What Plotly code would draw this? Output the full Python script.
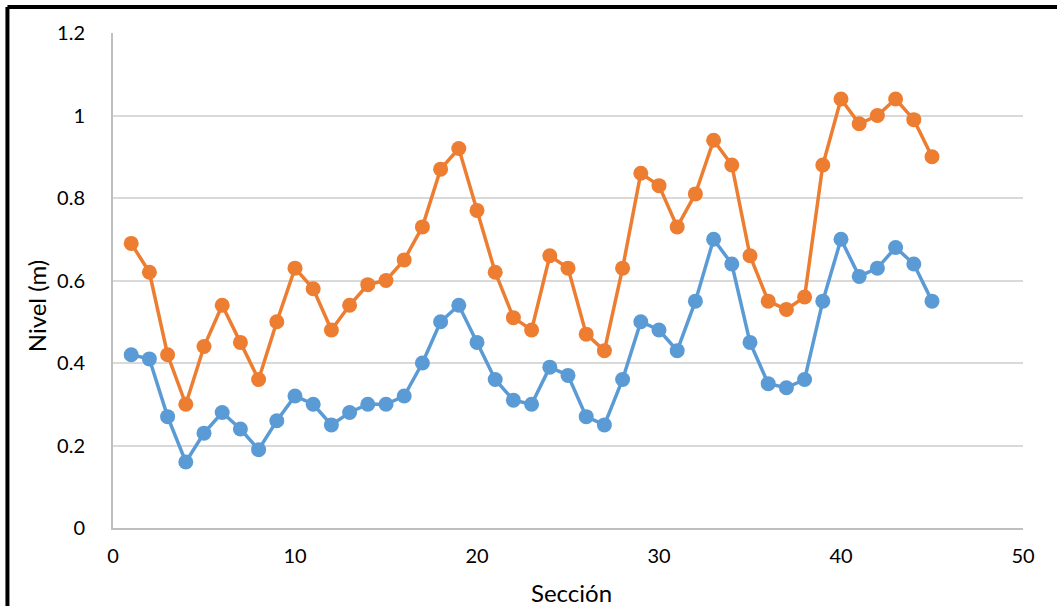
import plotly.graph_objects as go

# Section numbers along the channel
seccion = list(range(1, 46))

# Water level per section (m), lower series
nivel_bajo = [0.42, 0.41, 0.27, 0.16, 0.23, 0.28, 0.24, 0.19, 0.26, 0.32,
              0.30, 0.25, 0.28, 0.30, 0.30, 0.32, 0.40, 0.50, 0.54, 0.45,
              0.36, 0.31, 0.30, 0.39, 0.37, 0.27, 0.25, 0.36, 0.50, 0.48,
              0.43, 0.55, 0.70, 0.64, 0.45, 0.35, 0.34, 0.36, 0.55, 0.70,
              0.61, 0.63, 0.68, 0.64, 0.55]

# Water level per section (m), upper series
nivel_alto = [0.69, 0.62, 0.42, 0.30, 0.44, 0.54, 0.45, 0.36, 0.50, 0.63,
              0.58, 0.48, 0.54, 0.59, 0.60, 0.65, 0.73, 0.87, 0.92, 0.77,
              0.62, 0.51, 0.48, 0.66, 0.63, 0.47, 0.43, 0.63, 0.86, 0.83,
              0.73, 0.81, 0.94, 0.88, 0.66, 0.55, 0.53, 0.56, 0.88, 1.04,
              0.98, 1.00, 1.04, 0.99, 0.90]

x_ticks = [0, 10, 20, 30, 40, 50]
y_ticks = [0, 0.2, 0.4, 0.6, 0.8, 1.0, 1.2]
y_tick_text = ["0", "0.2", "0.4", "0.6", "0.8", "1", "1.2"]

BLUE = "#5B9BD5"
ORANGE = "#ED7D31"
FONT = "Lato, 'Open Sans', sans-serif"

fig = go.Figure()
fig.add_trace(go.Scatter(
    x=seccion, y=nivel_bajo, mode="lines+markers",
    line=dict(color=BLUE, width=3.5),
    marker=dict(color=BLUE, size=15),
    name="Nivel 1",
))
fig.add_trace(go.Scatter(
    x=seccion, y=nivel_alto, mode="lines+markers",
    line=dict(color=ORANGE, width=3.5),
    marker=dict(color=ORANGE, size=15),
    name="Nivel 2",
))

fig.update_layout(
    width=1057, height=606,
    margin=dict(l=113, r=34, t=33, b=78),
    paper_bgcolor="white", plot_bgcolor="white",
    showlegend=False,
    font=dict(family=FONT, size=20, color="#000000"),
    xaxis=dict(
        range=[0, 50], tickvals=x_ticks, ticktext=[str(v) for v in x_ticks],
        showgrid=False, zeroline=False,
        showline=True, linecolor="#BFBFBF", linewidth=2,
        ticks="outside", ticklen=9, tickcolor="rgba(0,0,0,0)",
    ),
    yaxis=dict(
        range=[0, 1.2], tickvals=y_ticks, ticktext=y_tick_text,
        showgrid=True, gridcolor="#D9D9D9", gridwidth=2,
        zeroline=False,
        showline=True, linecolor="#BFBFBF", linewidth=2,
        ticks="outside", ticklen=22, tickcolor="rgba(0,0,0,0)",
    ),
    annotations=[
        dict(text="Sección", xref="paper", yref="paper",
             x=0.504, y=-0.131, xanchor="center", yanchor="middle",
             showarrow=False, font=dict(size=24)),
        dict(text="Nivel (m)", xref="paper", yref="paper",
             x=-0.0846, y=0.448, xanchor="center", yanchor="middle",
             textangle=-90, showarrow=False, font=dict(size=24)),
    ],
    shapes=[
        # frame around the chart (top and left edges)
        dict(type="line", xref="paper", yref="paper",
             x0=-0.116, x1=1.04, y0=1.0525, y1=1.0525,
             line=dict(color="black", width=4)),
        dict(type="line", xref="paper", yref="paper",
             x0=-0.116, x1=-0.116, y0=-0.2, y1=1.0525,
             line=dict(color="black", width=4)),
    ],
)

fig.write_html("out.html")
